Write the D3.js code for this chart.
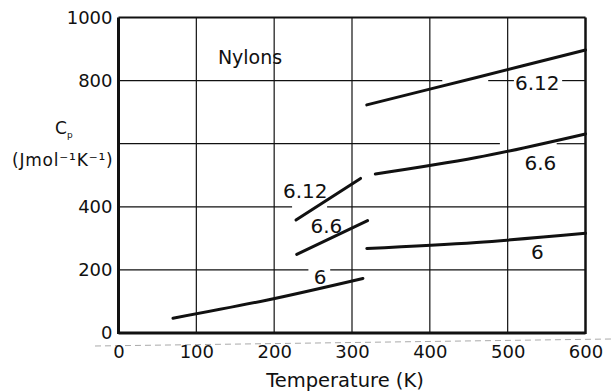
<!DOCTYPE html>
<html>
<head>
<meta charset="utf-8">
<script src="https://cdn.jsdelivr.net/npm/d3@7"></script>
<style>
  html, body { margin: 0; padding: 0; background: #fff; }
  svg { display: block; font-family: "DejaVu Sans", sans-serif; }
</style>
</head>
<body>
<svg id="chart" width="611" height="391"></svg>
<script>
// ---- data ----
const xTicks = [0, 100, 200, 300, 400, 500, 600];
const yGrid = [0, 200, 400, 600, 800, 1000];
const yTickLabels = [0, 200, 400, 800, 1000]; // 600 is replaced by the unit label

// Cp segments (temperature K, Cp J mol^-1 K^-1)
const nylon6Low    = [[70, 47], [190, 104], [314, 173]];
const nylon6High   = [[319, 268], [460, 287], [600, 316]];
const nylon66Low   = [[229, 249], [320, 356]];
const nylon66High  = [[330, 504], [460, 556], [600, 631]];
const nylon612Low  = [[228, 358], [311, 490]];
const nylon612High = [[319, 723], [460, 810], [600, 897]];

const seriesLabels = [
  { text: "6.12", x: 538, y: 792 },
  { text: "6.6",  x: 542, y: 539 },
  { text: "6",    x: 538, y: 258 },
  { text: "6",    x: 259, y: 178 },
  { text: "6.6",  x: 267, y: 339 },
  { text: "6.12", x: 240, y: 451 }
];
const titleLabel = { text: "Nylons", x: 169, y: 875 };

// gaps in the grid lines of the original drawing (data units)
const hGridGaps = [
  { v: 800, a: 416, b: 475 }, { v: 800, a: 508, b: 570 },
  { v: 600, a: 490, b: 563 },
  { v: 400, a: 223, b: 268 },
  { v: 200, a: 244, b: 272 }
];

// ---- layout ----
const svg = d3.select("#chart");
const L = 118.5, R = 585.5, T = 17.5, B = 333;
const x = d3.scaleLinear().domain([0, 600]).range([L, R]);
const y = d3.scaleLinear().domain([0, 1000]).range([B, T]);
const ink = "#111";

// scan artifact dashed line under the axis
svg.append("line")
  .attr("x1", 95).attr("y1", 346).attr("x2", 611).attr("y2", 339)
  .attr("stroke", "#aaa").attr("stroke-width", 1).attr("stroke-dasharray", "6,4");

// grid lines
const grid = svg.append("g").attr("stroke", ink).attr("stroke-width", 1.2);
xTicks.filter(d => d > 0 && d < 600).forEach(d => {
  grid.append("line").attr("x1", x(d)).attr("x2", x(d)).attr("y1", y(0)).attr("y2", y(1000));
});
yGrid.filter(d => d > 0 && d < 1000).forEach(d => {
  const gaps = hGridGaps.filter(g => g.v === d).sort((p, q) => p.a - q.a);
  let start = 0;
  gaps.forEach(g => {
    grid.append("line").attr("x1", x(start)).attr("x2", x(g.a)).attr("y1", y(d)).attr("y2", y(d));
    start = g.b;
  });
  grid.append("line").attr("x1", x(start)).attr("x2", x(600)).attr("y1", y(d)).attr("y2", y(d));
});

// frame
svg.append("line").attr("x1", x(0)).attr("x2", x(0)).attr("y1", y(0) + 1).attr("y2", y(1000))
  .attr("stroke", ink).attr("stroke-width", 3);
svg.append("line").attr("x1", x(0)).attr("x2", x(600)).attr("y1", y(0)).attr("y2", y(0))
  .attr("stroke", ink).attr("stroke-width", 3);
svg.append("line").attr("x1", x(0)).attr("x2", x(600)).attr("y1", y(1000)).attr("y2", y(1000))
  .attr("stroke", ink).attr("stroke-width", 2);
svg.append("line").attr("x1", x(600)).attr("x2", x(600)).attr("y1", y(0) + 1).attr("y2", y(1000))
  .attr("stroke", ink).attr("stroke-width", 2.5);

// axes (labels only)
const xAxis = svg.append("g").attr("transform", `translate(0,${B})`)
  .call(d3.axisBottom(x).tickValues(xTicks).tickSize(0).tickPadding(12).tickFormat(d3.format("d")));
xAxis.select(".domain").remove();
xAxis.selectAll("text").attr("font-size", 18).attr("font-family", "DejaVu Sans").attr("fill", ink);

const yAxis = svg.append("g").attr("transform", `translate(${L},0)`)
  .call(d3.axisLeft(y).tickValues(yTickLabels).tickSize(0).tickPadding(6).tickFormat(d3.format("d")));
yAxis.select(".domain").remove();
yAxis.selectAll("text").attr("font-size", 18).attr("font-family", "DejaVu Sans").attr("fill", ink);

// axis titles
svg.append("text").attr("x", 345).attr("y", 387).attr("text-anchor", "middle")
  .attr("font-size", 19.5).attr("fill", ink).text("Temperature (K)");

const cp = svg.append("text").attr("x", 55).attr("y", 134).attr("font-size", 17).attr("fill", ink);
cp.append("tspan").text("C");
cp.append("tspan").attr("font-size", 9).attr("dy", 4).text("p");

svg.append("text").attr("x", 12).attr("y", 166).attr("font-size", 17)
  .attr("letter-spacing", 0.8).attr("fill", ink).text("(Jmol\u207B\u00B9K\u207B\u00B9)");

// data lines
const line = d3.line().x(d => x(d[0])).y(d => y(d[1])).curve(d3.curveCatmullRom);
[nylon6Low, nylon6High, nylon66Low, nylon66High, nylon612Low, nylon612High].forEach(s => {
  svg.append("path").datum(s).attr("d", line)
    .attr("fill", "none").attr("stroke", ink).attr("stroke-width", 3).attr("stroke-linecap", "round");
});

// labels
seriesLabels.forEach(l => {
  svg.append("text").attr("x", x(l.x)).attr("y", y(l.y))
    .attr("text-anchor", "middle").attr("dominant-baseline", "central")
    .attr("font-size", 20).attr("fill", ink).text(l.text);
});
svg.append("text").attr("x", x(titleLabel.x)).attr("y", y(titleLabel.y))
  .attr("text-anchor", "middle").attr("dominant-baseline", "central")
  .attr("font-size", 19).attr("fill", ink).text(titleLabel.text);
</script>
</body>
</html>
